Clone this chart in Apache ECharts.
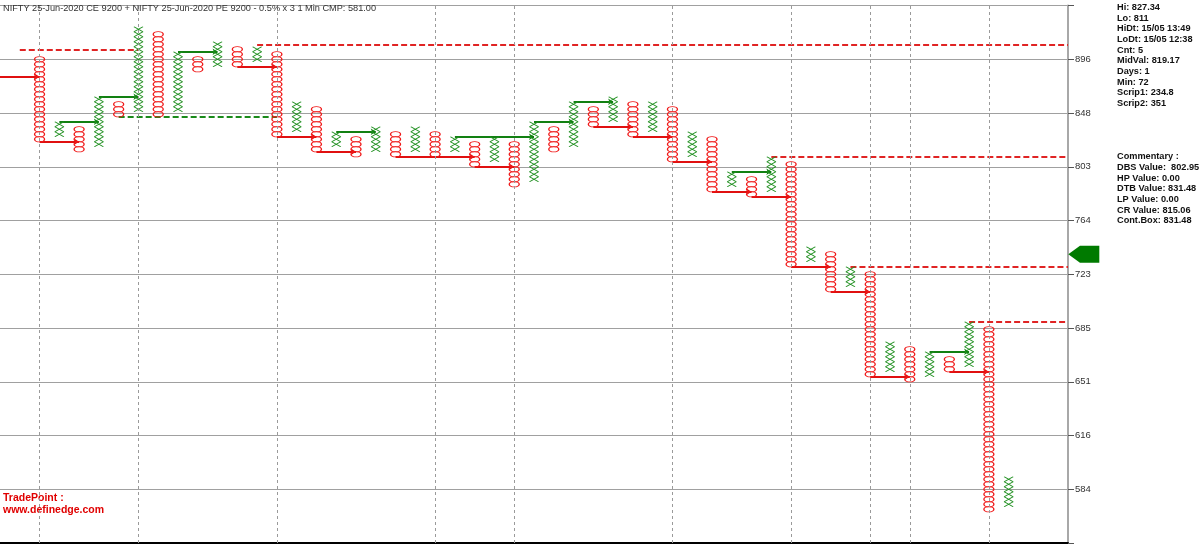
<!DOCTYPE html>
<html>
<head>
<meta charset="utf-8">
<style>html,body{margin:0;padding:0;background:#fff;}#c{width:1200px;height:544px;}</style>
<script src="https://cdn.jsdelivr.net/npm/echarts/dist/echarts.min.js"></script>
</head>
<body>
<div id="c"></div>
<script>
// ---- data (box index units, 0.5% boxes; box 0 = 584 gridline) ----
const colType = ['O','X','O','X','O','X','O','X','O','X','O','X','O','X','O','X','O','X','O','X','O','X','O','X','O','X','O','X','O','X','O','X','O','X','O','X','O','X','O','X','O','X','O','X','O','X','O','X','O','X'];
const colLow  = [70,71,68,69,75,76,75,76,84,85,85,86,71,72,68,69,67,68,67,68,67,68,65,66,61,62,68,69,73,74,71,72,66,67,60,61,59,60,45,46,40,41,23,24,22,23,24,25,-4,-3];
const colHigh = [86,73,72,78,77,92,91,87,86,89,88,88,87,77,76,71,70,72,71,72,71,70,69,70,69,73,72,77,76,78,77,77,76,71,70,63,62,66,65,48,47,44,43,29,28,27,26,33,32,2];

// horizontal signal lines: [fromCol, toCol, level]
const redSolid   = [[-2,0,82.5],[0,2,69.5],[10,12,84.5],[12,14,70.5],[14,16,67.5],[18,22,66.5],[22,24,64.5],[28,30,72.5],[30,32,70.5],[32,34,65.5],[34,36,59.5],[36,38,58.5],[38,40,44.5],[40,42,39.5],[42,44,22.5],[46,48,23.5]];
const greenSolid = [[1,3,73.5],[3,5,78.5],[7,9,87.5],[15,17,71.5],[21,25,70.5],[25,27,73.5],[27,29,77.5],[35,37,63.5],[45,47,27.5]];
const redDashed  = [[-1,5,88],[11,52,89],[37,52,66.5],[41,52,44.5],[47,52,33.5]];
const greenDashed= [[4,12,74.5]];

const sessionBreakCols = [0,5,12,20,24,32,38,42,44,48];
const tickLabels = ['584','616','651','685','723','764','803','848','896'];
const gridStep = 10.75;
const markerLevel = [52.8, 47];

const titleText = 'NIFTY 25-Jun-2020 CE 9200 + NIFTY 25-Jun-2020 PE 9200 - 0.5% x 3 1 Min CMP: 581.00';
const infoLines = ['Hi: 827.34','Lo: 811','HiDt: 15/05 13:49','LoDt: 15/05 12:38','Cnt: 5','MidVal: 819.17','Days: 1','Min: 72','Scrip1: 234.8','Scrip2: 351'];
const commentaryLines = ['Commentary :','DBS Value:  802.95','HP Value: 0.00','DTB Value: 831.48','LP Value: 0.00','CR Value: 815.06','Cont.Box: 831.48'];
const brandLines = ['TradePoint :','www.definedge.com'];

// ---- build ----
const xData = [], oData = [];
colType.forEach((t, i) => {
  for (let b = colLow[i]; b <= colHigh[i]; b++) {
    (t === 'X' ? xData : oData).push([i, b]);
  }
});
const seg = arr => arr.map(s => ({coords: [[s[0], s[2]], [s[1], s[2]]]}));

const FONT = '"Liberation Sans", Arial, sans-serif';
const chart = echarts.init(document.getElementById('c'), null, {renderer: 'canvas'});
chart.setOption({
  animation: false,
  backgroundColor: '#fff',
  grid: {left: 0, right: 132, top: 5.5, bottom: 1, containLabel: false},
  xAxis: {
    type: 'value', min: -2, max: 52,
    axisLine: {show: true, onZero: false, lineStyle: {color: '#000', width: 2}},
    axisTick: {show: false}, axisLabel: {show: false}, splitLine: {show: false}
  },
  yAxis: {
    type: 'value', position: 'right', min: -gridStep, max: gridStep * 9, interval: gridStep,
    axisLine: {show: true, onZero: false, lineStyle: {color: '#a8a8a8', width: 2}},
    axisTick: {show: true, length: 6, lineStyle: {color: '#555'}},
    axisLabel: {
      margin: 7, color: '#333', fontSize: 9.5, fontFamily: FONT,
      formatter: v => { const i = Math.round(v / gridStep); return tickLabels[i] !== undefined ? tickLabels[i] : ''; }
    },
    splitLine: {show: true, lineStyle: {color: '#a0a0a0', width: 1}}
  },
  series: [
    {
      type: 'scatter', name: 'breaks', data: [], silent: true,
      markLine: {
        silent: true, symbol: ['none', 'none'], label: {show: false},
        lineStyle: {color: '#9a9a9a', type: [3, 3], width: 1},
        data: sessionBreakCols.map(c => ({xAxis: c}))
      }
    },
    {
      type: 'lines', coordinateSystem: 'cartesian2d', data: seg(redDashed), silent: true,
      lineStyle: {color: '#e02424', width: 2, type: [6, 3], opacity: 1}, symbol: ['none', 'none'], z: 3
    },
    {
      type: 'lines', coordinateSystem: 'cartesian2d', data: seg(greenDashed), silent: true,
      lineStyle: {color: '#1a8a1a', width: 2, type: [6, 3], opacity: 1}, symbol: ['none', 'none'], z: 3
    },
    {
      type: 'lines', coordinateSystem: 'cartesian2d', data: seg(redSolid), silent: true,
      lineStyle: {color: '#e01010', width: 2, opacity: 1}, symbol: ['none', 'arrow'], symbolSize: 5, z: 3
    },
    {
      type: 'lines', coordinateSystem: 'cartesian2d', data: seg(greenSolid), silent: true,
      lineStyle: {color: '#128012', width: 2, opacity: 1}, symbol: ['none', 'arrow'], symbolSize: 5, z: 3
    },
    {
      type: 'scatter', name: 'O', data: oData, silent: true, z: 4,
      symbol: 'path://M0,5A5,5,0,1,1,10,5A5,5,0,1,1,0,5Z', symbolSize: [10, 5.4],
      itemStyle: {color: 'rgba(0,0,0,0)', borderColor: '#f01818', borderWidth: 1, opacity: 1}
    },
    {
      type: 'scatter', name: 'X', data: xData, silent: true, z: 4,
      symbol: 'path://M0,0L10,10M10,0L0,10', symbolSize: [9, 5],
      itemStyle: {color: 'rgba(0,0,0,0)', borderColor: '#1f8f1f', borderWidth: 1, opacity: 1}
    },
    {
      type: 'scatter', name: 'marker', data: [markerLevel], silent: true, clip: false, z: 5,
      symbol: 'path://M0,9L12,0L32,0L32,18L12,18Z', symbolSize: [31, 17],
      itemStyle: {color: '#007a00', opacity: 1}
    }
  ],
  graphic: [
    {type: 'text', left: 3, top: 4, z: 10, style: {text: titleText, fill: '#333', font: '9.2px ' + FONT}},
    {type: 'text', left: 1117, top: 2, style: {text: infoLines.join('\n'), fill: '#111', font: 'bold 9.2px ' + FONT, lineHeight: 10.67}},
    {type: 'text', left: 1117, top: 151.5, style: {text: commentaryLines.join('\n'), fill: '#111', font: 'bold 9.2px ' + FONT, lineHeight: 10.67}},
    {type: 'text', left: 3, top: 492, style: {text: brandLines.join('\n'), fill: '#e00000', font: 'bold 10.5px ' + FONT, lineHeight: 12}}
  ]
});
</script>
</body>
</html>
